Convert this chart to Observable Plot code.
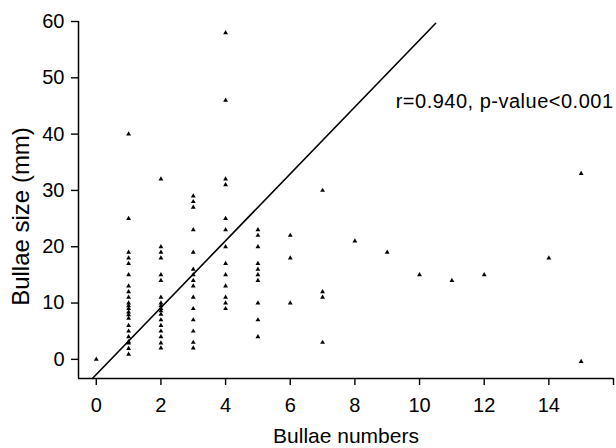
<!DOCTYPE html>
<html>
<head>
<meta charset="utf-8">
<script src="https://cdn.jsdelivr.net/npm/d3@7"></script>
<script src="https://cdn.jsdelivr.net/npm/@observablehq/plot@0.6"></script>
<style>
  html, body { margin: 0; padding: 0; background: #fff; }
  #chart svg { display: block; }
  #chart [aria-label="x-axis tick"] path, #chart [aria-label="y-axis tick"] path { stroke-width: 1.4; }
</style>
</head>
<body>
<div id="chart"></div>
<script>
// Bullae numbers (x) and the bullae sizes observed at each count (y, mm)
const bullaeNumbers = [0, 1, 2, 3, 4, 5, 6, 7, 8, 9, 10, 11, 12, 14, 15];
const sizesAt0  = [0];
const sizesAt1  = [40, 25, 19, 18, 17, 15, 13, 12, 11, 10, 9.5, 9, 8.4, 7.9, 7.3, 6, 5, 4, 3.1, 2.9, 1.9, 0.9];
const sizesAt2  = [32, 20, 19, 18, 15, 14, 11, 10, 9.5, 9, 8.6, 8, 7, 6, 5, 4, 2.9, 2];
const sizesAt3  = [29, 28, 27, 23, 19, 16, 15, 14, 13, 11, 9, 7, 5, 3, 2];
const sizesAt4  = [58, 46, 32, 31, 25, 23, 20, 17, 15, 13, 11, 10, 9];
const sizesAt5  = [23, 22, 20, 17, 16, 15, 14, 10, 7, 4];
const sizesAt6  = [22, 18, 10];
const sizesAt7  = [30, 12, 11, 3];
const sizesAt8  = [21];
const sizesAt9  = [19];
const sizesAt10 = [15];
const sizesAt11 = [14];
const sizesAt12 = [15];
const sizesAt14 = [18];
const sizesAt15 = [33, -0.4];
const sizeGroups = [sizesAt0, sizesAt1, sizesAt2, sizesAt3, sizesAt4, sizesAt5, sizesAt6, sizesAt7,
                    sizesAt8, sizesAt9, sizesAt10, sizesAt11, sizesAt12, sizesAt14, sizesAt15];

// Fitted line
const fitSlope = 5.94;
const fitIntercept = -2.69;
const fitXRange = [-0.12, 10.5];

// Axis ticks and labels
const xTicks = [0, 2, 4, 6, 8, 10, 12, 14, 16];
const xTickLabels = ["0", "2", "4", "6", "8", "10", "12", "14", ""];
const yTicks = [0, 10, 20, 30, 40, 50, 60];
const xDomain = [-0.55, 16];
const yDomain = [-3.4, 60];
const xLabel = "Bullae numbers";
const yLabel = "Bullae size (mm)";
const statText = "r=0.940, p-value<0.001";

const points = [];
bullaeNumbers.forEach((n, i) => sizeGroups[i].forEach(s => points.push({n, s})));
const fitLine = fitXRange.map(n => ({n, s: fitSlope * n + fitIntercept}));

const chart = Plot.plot({
  width: 616,
  height: 448,
  marginLeft: 78,
  marginRight: 3,
  marginTop: 21,
  marginBottom: 70,
  style: {fontFamily: "'Liberation Sans', Arial, sans-serif", fontSize: "20px", color: "#000", background: "#fff"},
  x: {domain: xDomain, ticks: xTicks, tickSize: 7, tickPadding: 12,
      tickFormat: d => xTickLabels[xTicks.indexOf(d)], label: null},
  y: {domain: yDomain, ticks: yTicks, tickSize: 7, tickPadding: 7, label: null},
  marks: [
    Plot.ruleX([xDomain[0]], {y1: yDomain[0], y2: yDomain[1], stroke: "#000", strokeWidth: 1.5}),
    Plot.ruleY([yDomain[0]], {x1: xDomain[0], x2: xDomain[1], stroke: "#000", strokeWidth: 1.5}),
    Plot.line(fitLine, {x: "n", y: "s", stroke: "#000", strokeWidth: 1.6}),
    Plot.dot(points, {x: "n", y: "s", symbol: "triangle", r: 1.8, fill: "#000", stroke: "none"}),
    Plot.text([statText], {frameAnchor: "top-right", textAnchor: "end", lineAnchor: "middle", dy: 79.7, fontSize: 20, fill: "#000"}),
    Plot.text([xLabel], {frameAnchor: "bottom", textAnchor: "middle", lineAnchor: "middle", dy: 57.5, fontSize: 21, fill: "#000"}),
    Plot.text([yLabel], {frameAnchor: "left", textAnchor: "middle", rotate: -90, lineAnchor: "middle", dx: -57, dy: 16.5, fontSize: 24, fill: "#000"})
  ]
});
d3.select(chart).selectAll("text").filter(function() { return this.textContent === statText; })
  .style("letter-spacing", "0.5px");
document.getElementById("chart").appendChild(chart);
</script>
</body>
</html>
